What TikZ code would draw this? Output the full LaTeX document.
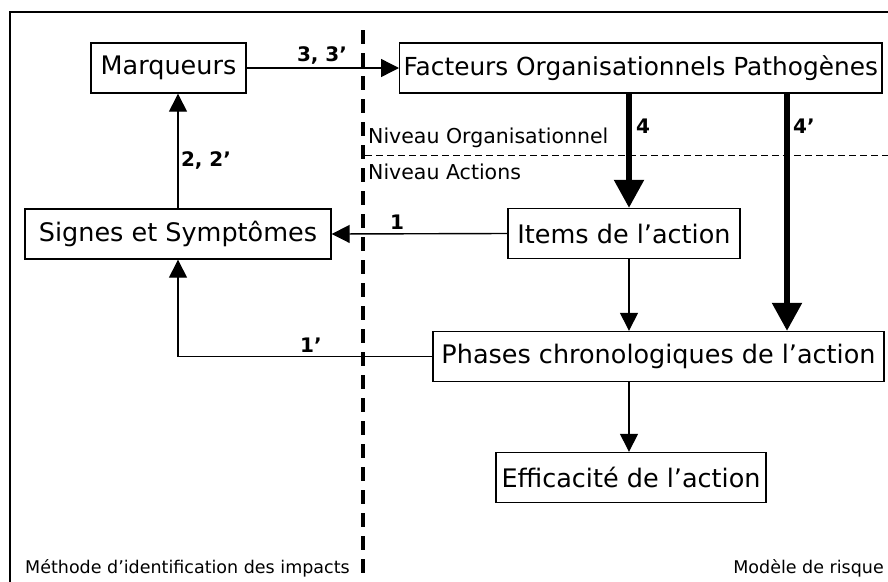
\documentclass[tikz,border=0pt]{standalone}
\usepackage{fontspec}
\setmainfont{DejaVu Sans}
\usetikzlibrary{arrows.meta}
\tikzset{
  box/.style={draw, line width=1.4pt, minimum height=50pt, inner sep=2pt, font=\fontsize{25.5}{30}\selectfont},
  lab/.style={inner sep=0pt, font=\fontsize{20}{24}\selectfont\bfseries},
  lvl/.style={inner sep=0pt, anchor=west, font=\fontsize{20.5}{24}\selectfont},
  foot/.style={inner sep=0pt, font=\fontsize{17.5}{20}\selectfont},
  thin/.style={line width=1.4pt, -{Triangle[length=18pt,width=18pt]}},
  thick/.style={line width=5.5pt, -{Triangle[length=28pt,width=29pt]}},
  plain/.style={line width=1.4pt}
}
\begin{document}
\begin{tikzpicture}[x=1pt,y=-1pt]
\useasboundingbox (0,0) rectangle (888,581);
\clip (0,0) rectangle (888,581);
% outer frame (cropped at right and bottom)
\draw[line width=1.4pt] (10,12) rectangle (1000,700);
% separators
\draw[line width=3.5pt, dash pattern=on 14pt off 9pt] (363,30) -- (363,590);
\draw[line width=1pt, dash pattern=on 7pt off 4pt] (365,155) -- (890,155);
\node[lvl] (no) at (368,138) {Niveau Organisationnel};
\node[lvl] (na) at (368,172) {Niveau Actions};
% boxes
\node[box, minimum width=155pt] (marq) at (168.5,68) {Marqueurs};
\node[box, anchor=west, inner xsep=4pt, font=\fontsize{24.8}{30}\selectfont] (fact) at (399,68) {Facteurs Organisationnels Pathogènes};
\node[box, minimum width=306pt] (sign) at (178,234) {Signes et Symptômes};
\node[box, minimum width=232pt] (items) at (624,233.5) {Items de l’action};
\node[box, minimum width=451pt] (phas) at (658.5,356.5) {Phases chronologiques de l’action};
\node[box, minimum width=270pt] (effi) at (631,477.5) {Efficacité de l’action};
% column coordinates
\coordinate (cA) at (629,0);
\coordinate (cB) at (787,0);
\coordinate (cL) at (178,0);
% connectors
\draw[thin] (marq.east) -- (fact.west);
\draw[thick] (fact.south -| cA) -- (items.north -| cA);
\draw[thick] (fact.south -| cB) -- (phas.north -| cB);
\draw[thin] (items.west) -- (sign.east);
\draw[thin] (sign.north -| cL) -- (marq.south -| cL);
\draw[thin] (items.south -| cA) -- (phas.north -| cA);
\draw[thin] (phas.south -| cA) -- (effi.north -| cA);
\draw[thin] (phas.west) -| (sign.south -| cL);
% labels
\node[lab] (l3) at (322,55) {3, 3’};
\node[lab] (l2) at (206,160) {2, 2’};
\node[lab] (l1) at (397,222) {1};
\node[lab] (l1p) at (311,345) {1’};
\node[lab, anchor=west] (l4) at (636,126) {4};
\node[lab, anchor=west] (l4p) at (793,126) {4’};
% footers
\node[foot, anchor=west] (fl) at (25,568) {Méthode d’identification des impacts};
\node[foot, anchor=east] (fr) at (884,568) {Modèle de risque};
\end{tikzpicture}
\end{document}
